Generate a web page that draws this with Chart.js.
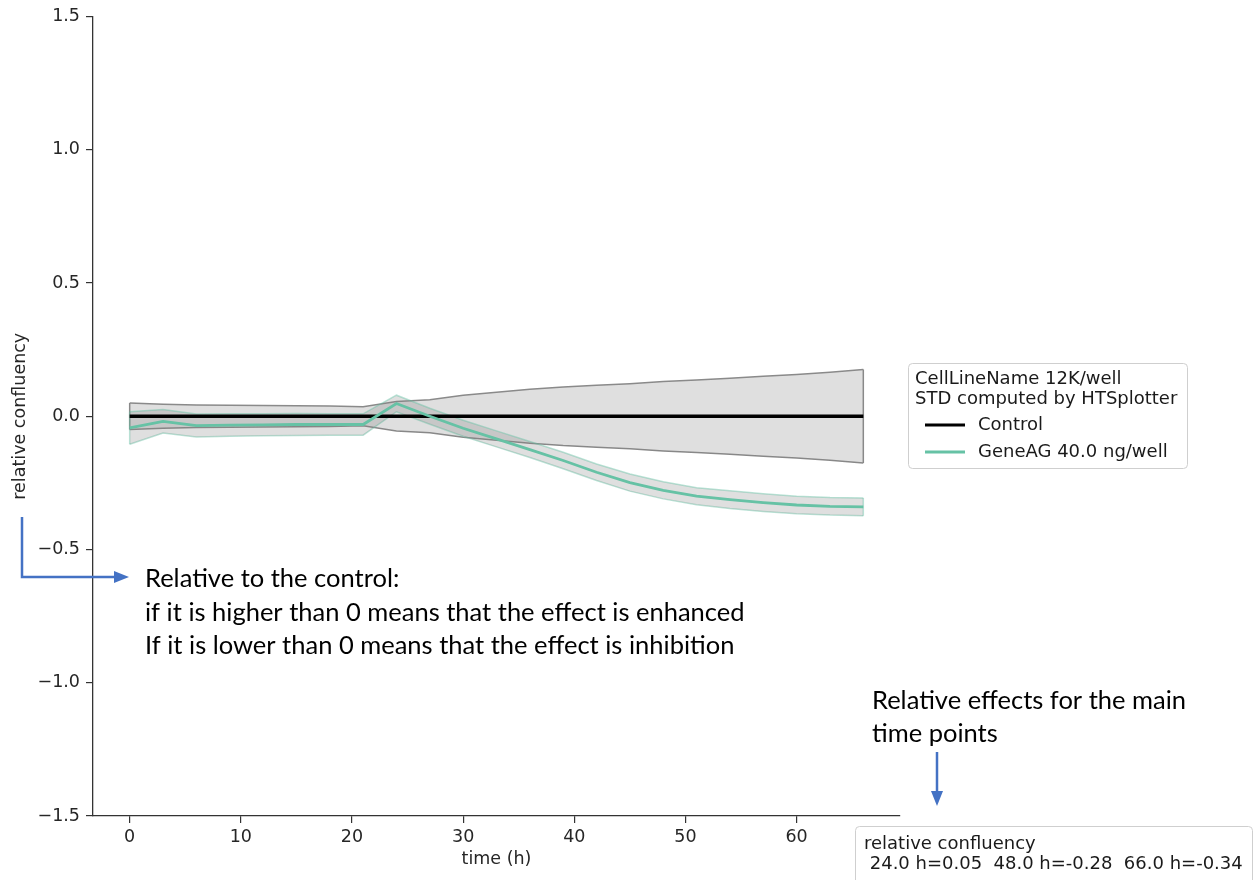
<!DOCTYPE html>
<html>
<head>
<meta charset="utf-8">
<script src="https://cdn.jsdelivr.net/npm/chart.js@4.4.1/dist/chart.umd.min.js"></script>
<style>
  html, body { margin: 0; padding: 0; background: #fff; }
  #wrap { width: 1255px; height: 880px; position: relative; }
</style>
</head>
<body>
<div id="wrap"><canvas id="chart"></canvas></div>
<script>
// time points (h)
const times = [0, 3, 6, 9, 12, 15, 18, 21, 24, 27, 30, 33, 36, 39, 42, 45, 48, 51, 54, 57, 60, 63, 66];

// control, relative to itself
const controlMean = [0, 0, 0, 0, 0, 0, 0, 0, 0, 0, 0, 0, 0, 0, 0, 0, 0, 0, 0, 0, 0, 0, 0];
const controlStd = [0.050, 0.045, 0.042, 0.041, 0.040, 0.039, 0.038, 0.036, 0.055, 0.062, 0.079, 0.090,
  0.101, 0.110, 0.116, 0.122, 0.130, 0.136, 0.143, 0.150, 0.157, 0.165, 0.175];

// GeneAG 40.0 ng/well
const geneMean = [-0.044, -0.019, -0.035, -0.033, -0.032, -0.031, -0.031, -0.031, 0.048, 0.000, -0.045, -0.085,
  -0.125, -0.166, -0.210, -0.249, -0.278, -0.300, -0.313, -0.324, -0.333, -0.338, -0.340];
const geneStd = [0.061, 0.044, 0.043, 0.042, 0.041, 0.041, 0.040, 0.040, 0.031, 0.030, 0.030, 0.030,
  0.030, 0.031, 0.031, 0.032, 0.032, 0.032, 0.033, 0.033, 0.033, 0.033, 0.033];

const xTicks = [0, 10, 20, 30, 40, 50, 60];
const yTicks = [-1.5, -1.0, -0.5, 0.0, 0.5, 1.0, 1.5];

const legendTitle = ["CellLineName 12K/well", "STD computed by HTSplotter"];
const seriesNames = ["GeneAG 40.0 ng/well", "Control"];
const mainTimes = [24, 48, 66];

const noteLeft = [
  "Relative to the control:",
  "if it is higher than 0 means that the effect is enhanced",
  "If it is lower than 0 means that the effect is inhibition"
];
const noteRight = ["Relative effects for the main", "time points"];

const FONT = "'DejaVu Sans', sans-serif";
const GREEN = "#66c2a5";
const BLUE = "#4472c4";

const pts = (ys) => times.map((t, i) => ({x: t, y: ys[i]}));
const band = (m, s, sign) => times.map((t, i) => ({x: t, y: m[i] + sign * s[i]}));
const edges = (m, s) => {
  const n = times.length - 1;
  return [
    {x: times[0], y: m[0] + s[0]}, {x: times[0], y: m[0] - s[0]}, {x: times[0], y: null},
    {x: times[n], y: m[n] + s[n]}, {x: times[n], y: m[n] - s[n]}
  ];
};

const lineDs = (label, data, color, width, extra = {}) => Object.assign({
  label: label,
  data: data,
  borderColor: color,
  borderWidth: width,
  pointRadius: 0,
  tension: 0,
  fill: false,
  spanGaps: false
}, extra);

const bandFill = "rgba(128, 128, 128, 0.25)";

const datasets = [
  lineDs(seriesNames[0], pts(geneMean), GREEN, 2.8, {legend: true}),
  lineDs(seriesNames[1], pts(controlMean), "#000", 3.5, {legend: true}),
  lineDs("gene up", band(geneMean, geneStd, 1), "rgba(102, 194, 165, 0.45)", 1.5, {fill: "+1", backgroundColor: bandFill}),
  lineDs("gene down", band(geneMean, geneStd, -1), "rgba(102, 194, 165, 0.45)", 1.5),
  lineDs("gene edges", edges(geneMean, geneStd), "rgba(102, 194, 165, 0.45)", 1.5),
  lineDs("control up", band(controlMean, controlStd, 1), "#8a8a8a", 1.5, {fill: "+1", backgroundColor: bandFill}),
  lineDs("control down", band(controlMean, controlStd, -1), "#8a8a8a", 1.5),
  lineDs("control edges", edges(controlMean, controlStd), "#8a8a8a", 1.5)
];

const fmtY = (v) => (v < 0 ? "\u2212" : "") + Math.abs(v).toFixed(1);

const drawArrowHead = (ctx, x, y, dir) => { // dir: 'right' or 'down'
  ctx.beginPath();
  if (dir === "right") {
    ctx.moveTo(x, y);
    ctx.lineTo(x - 15, y - 6);
    ctx.lineTo(x - 15, y + 6);
  } else {
    ctx.moveTo(x, y);
    ctx.lineTo(x - 6, y - 15);
    ctx.lineTo(x + 6, y - 15);
  }
  ctx.closePath();
  ctx.fill();
};

const roundBox = (ctx, x, y, w, h, r) => {
  ctx.beginPath();
  ctx.roundRect(x, y, w, h, r);
  ctx.fillStyle = "#fff";
  ctx.fill();
  ctx.strokeStyle = "#cfcfcf";
  ctx.lineWidth = 1;
  ctx.stroke();
};

const extrasPlugin = {
  id: "extras",
  afterDraw(chart) {
    const ctx = chart.ctx;
    ctx.save();

    // legend box
    roundBox(ctx, 908.5, 363.5, 279, 105, 4);
    ctx.fillStyle = "#1a1a1a";
    ctx.font = "18px " + FONT;
    ctx.textBaseline = "middle";
    ctx.textAlign = "left";
    ctx.fillText(legendTitle[0], 915, 379);
    ctx.fillText(legendTitle[1], 915, 399);
    const items = chart.data.datasets.filter(d => d.legend).reverse();
    items.forEach((d, i) => {
      const y = 425 + i * 27;
      ctx.strokeStyle = d.borderColor;
      ctx.lineWidth = 3;
      ctx.beginPath();
      ctx.moveTo(925, y);
      ctx.lineTo(965, y);
      ctx.stroke();
      ctx.fillStyle = "#1a1a1a";
      ctx.fillText(d.label, 978, y);
    });

    // main time point values
    roundBox(ctx, 855.5, 826.5, 397, 70, 4);
    const vals = mainTimes.map(t => {
      const v = geneMean[times.indexOf(t)];
      return t.toFixed(1) + " h=" + v.toFixed(2);
    });
    ctx.fillStyle = "#1a1a1a";
    ctx.fillText("relative confluency", 864, 844);
    ctx.fillText(" " + vals.join("  "), 864, 864);

    // notes
    ctx.font = "25.5px Lato, 'Open Sans', sans-serif";
    ctx.fillStyle = "#000";
    noteLeft.forEach((s, i) => ctx.fillText(s, 145, 579 + i * 33.5));
    noteRight.forEach((s, i) => ctx.fillText(s, 872, 701 + i * 33));

    // arrows
    ctx.strokeStyle = BLUE;
    ctx.fillStyle = BLUE;
    ctx.lineWidth = 2.5;
    ctx.beginPath();
    ctx.moveTo(22, 517);
    ctx.lineTo(22, 577);
    ctx.lineTo(116, 577);
    ctx.stroke();
    drawArrowHead(ctx, 129, 577, "right");
    ctx.beginPath();
    ctx.moveTo(937, 752);
    ctx.lineTo(937, 794);
    ctx.stroke();
    drawArrowHead(ctx, 937, 806, "down");

    ctx.restore();
  }
};

const ctx = document.getElementById("chart").getContext("2d");
window.myChart = new Chart(ctx, {
  type: "line",
  data: {datasets: datasets},
  plugins: [extrasPlugin],
  options: {
    responsive: true,
    maintainAspectRatio: false,
    animation: false,
    layout: {padding: {left: 0, right: 355, top: 15, bottom: 0}},
    plugins: {
      legend: {display: false},
      tooltip: {enabled: false}
    },
    scales: {
      x: {
        type: "linear",
        min: -3.3,
        max: 69.3,
        afterFit: (scale) => { scale.height = 64; },
        afterBuildTicks: (scale) => { scale.ticks = xTicks.map(v => ({value: v})); },
        grid: {display: true, drawOnChartArea: false, drawTicks: true, tickLength: 7, color: "#333", lineWidth: 1.2},
        border: {display: true, color: "#333", width: 1.3},
        ticks: {color: "#262626", font: {family: FONT, size: 17.5}, padding: 4, maxRotation: 0},
        title: {display: true, text: "time (h)", color: "#262626", font: {family: FONT, size: 17.5}, padding: {top: 0, bottom: 10}}
      },
      y: {
        min: -1.5,
        max: 1.5,
        afterFit: (scale) => { scale.width = 93; },
        afterBuildTicks: (scale) => { scale.ticks = yTicks.map(v => ({value: v})); },
        grid: {display: true, drawOnChartArea: false, drawTicks: true, tickLength: 7, color: "#333", lineWidth: 1.2},
        border: {display: true, color: "#333", width: 1.3},
        ticks: {color: "#262626", font: {family: FONT, size: 17.5}, padding: 6, callback: (v) => fmtY(v)},
        title: {display: true, text: "relative confluency", color: "#262626", font: {family: FONT, size: 17.5}, padding: {top: 10, bottom: 0}}
      }
    }
  }
});
</script>
</body>
</html>
